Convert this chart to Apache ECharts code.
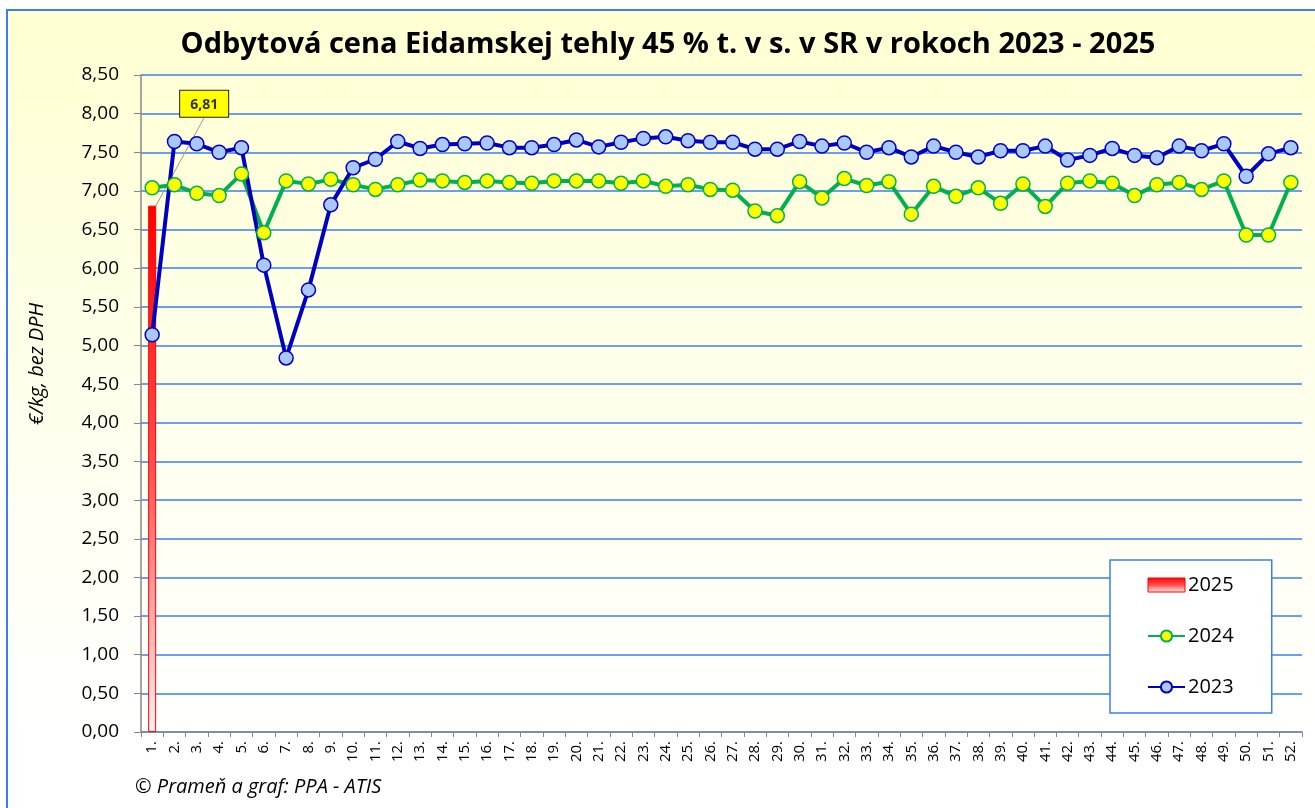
<!DOCTYPE html>
<html>
<head>
<meta charset="utf-8">
<script src="https://cdn.jsdelivr.net/npm/echarts@6/dist/echarts.min.js"></script>
<style>
html,body{margin:0;padding:0;background:#fff;overflow:hidden;}
#bg{position:absolute;left:6px;top:9px;width:1320px;height:810px;border-left:2px solid #3a7ff0;border-top:2px solid #3a7ff0;
background:linear-gradient(to bottom,#ffffd2 0%,#fffff0 55%,#ffffff 90%);}
#chart{position:absolute;left:0;top:0;width:1315px;height:808px;}
</style>
</head>
<body>
<div id="bg"></div>
<div id="chart"></div>
<script>
const weeks = Array.from({length:52},(_,i)=>(i+1)+'.');
const data2025 = [6.81];
const data2024 = [7.04,7.08,6.97,6.94,7.22,6.46,7.13,7.09,7.15,7.08,7.02,7.08,7.14,7.13,7.11,7.13,7.11,7.10,7.13,7.13,7.13,7.10,7.13,7.06,7.08,7.02,7.01,6.74,6.68,7.12,6.91,7.16,7.07,7.12,6.70,7.06,6.93,7.04,6.84,7.09,6.80,7.10,7.13,7.10,6.94,7.08,7.11,7.02,7.13,6.43,6.43,7.11];
const data2023 = [5.14,7.64,7.61,7.50,7.56,6.04,4.84,5.72,6.82,7.30,7.41,7.64,7.55,7.60,7.61,7.62,7.56,7.56,7.60,7.66,7.57,7.63,7.68,7.70,7.65,7.63,7.63,7.54,7.54,7.64,7.58,7.62,7.50,7.56,7.44,7.58,7.50,7.44,7.52,7.52,7.58,7.40,7.46,7.55,7.46,7.43,7.58,7.52,7.61,7.19,7.48,7.56];

const FONT = 'Open Sans';
const fmt = v => v.toFixed(2).replace('.', ',');
const chart = echarts.init(document.getElementById('chart'), null, {renderer:'canvas'});
const barGrad = new echarts.graphic.LinearGradient(0,0,0,1,[{offset:0,color:'#ff0000'},{offset:0.5,color:'#ff5050'},{offset:1,color:'#fff0f0'}]);
chart.setOption({
  backgroundColor:'transparent',
  animation:false,
  title:{text:'Odbytová cena Eidamskej tehly 45 % t. v s. v SR v rokoch 2023 - 2025',left:663,textAlign:'center',top:25,
    textStyle:{fontFamily:FONT,fontSize:29,fontWeight:'bold',color:'#000'}},
  grid:{left:141,right:13,top:75,bottom:76,containLabel:false},
  legend:{orient:'vertical',left:1110,top:560,padding:[15,38,16,37],itemGap:31,itemWidth:37,itemHeight:14,
    backgroundColor:'#fff',borderColor:'#3a7ff0',borderWidth:1.5,
    textStyle:{fontFamily:FONT,fontSize:20,lineHeight:20,color:'#000',padding:[0,0,0,-2]},
    data:[{name:'2025',icon:'rect',itemStyle:{color:barGrad,borderColor:'#ff0000',borderWidth:1}},{name:'2024'},{name:'2023'}]},
  xAxis:{type:'category',data:weeks,boundaryGap:true,
    axisLine:{lineStyle:{color:'#888',width:1.5}},
    axisTick:{show:true,alignWithLabel:false,length:5,lineStyle:{color:'#888'}},
    axisLabel:{rotate:90,interval:0,fontFamily:FONT,fontSize:15,color:'#000',margin:9}},
  yAxis:{type:'value',min:0,max:8.5,interval:0.5,
    axisLine:{show:true,lineStyle:{color:'#888',width:1.5}},
    axisTick:{show:true,length:7,lineStyle:{color:'#888'}},
    axisLabel:{formatter:v=>fmt(v),fontFamily:FONT,fontSize:19,color:'#000',margin:22},
    splitLine:{lineStyle:{color:'#3a7ff0',width:1.5}}},
  series:[
    {name:'2025',type:'bar',data:data2025,barWidth:8,itemStyle:{color:barGrad,borderColor:'#ff0000',borderWidth:1},
      label:{show:true,position:'top',formatter:p=>fmt(p.value),fontFamily:FONT,fontSize:14,fontWeight:'bold',color:'#333',
        backgroundColor:'#ffff00',borderColor:'#222',borderWidth:1,padding:[7,10,5,10]},
      labelLayout:{dx:52,dy:-84},
      labelLine:{show:true,lineStyle:{color:'#999',width:1}}},
    {name:'2024',type:'line',data:data2024,symbol:'circle',symbolSize:14,
      lineStyle:{color:'#00b050',width:4},itemStyle:{color:'#ffff00',borderColor:'#00b050',borderWidth:1.5}},
    {name:'2023',type:'line',data:data2023,symbol:'circle',symbolSize:14,
      lineStyle:{color:'#0000c0',width:4},itemStyle:{color:'#a9c8ff',borderColor:'#0000c0',borderWidth:1.5}}
  ],
  graphic:[
    {type:'text',x:37,y:364,rotation:Math.PI/2,style:{text:'€/kg, bez DPH',fontFamily:FONT,fontSize:20,fontStyle:'italic',fill:'#000',align:'center',verticalAlign:'middle'}},
    {type:'text',left:135,top:777,style:{text:'© Prameň a graf: PPA - ATIS',fontFamily:FONT,fontSize:20,fontStyle:'italic',fill:'#000'}}]
});
</script>
</body>
</html>
